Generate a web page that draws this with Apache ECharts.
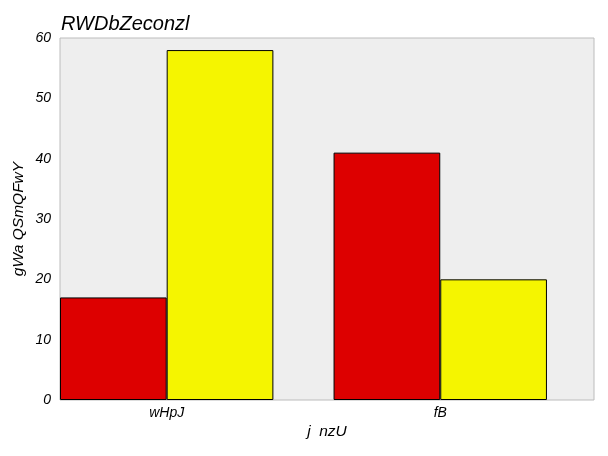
<!DOCTYPE html>
<html>
<head>
<meta charset="utf-8">
<script src="https://cdn.jsdelivr.net/npm/echarts@6/dist/echarts.min.js"></script>
<style>
    html, body { margin: 0; padding: 0; background: #ffffff; }
    #chart { width: 608px; height: 456px; }
</style>
</head>
<body>
<div id="chart"></div>
<script>
var categories = ['wHpJ', 'fB'];
var redValues = [17, 41];
var yellowValues = [58, 20];
var yTicks = [0, 10, 20, 30, 40, 50, 60];

var barOffset = 0.195;
var font = '"Liberation Sans", Arial, sans-serif';

function place(values, shift) {
    return values.map(function (v, i) { return [i + shift, v]; });
}

var myChart = echarts.init(document.getElementById('chart'));
var option = {
    backgroundColor: '#ffffff',
    animation: false,
    title: {
        text: 'RWDbZeconzl',
        left: 56,
        top: 9,
        textStyle: { fontFamily: font, fontStyle: 'italic', fontWeight: 'normal', fontSize: 20, color: '#000' }
    },
    grid: {
        left: 60, top: 38, right: 14, bottom: 56,
        show: true,
        backgroundColor: '#eeeeee',
        borderColor: '#bcbcbc',
        borderWidth: 1
    },
    xAxis: {
        type: 'value',
        min: -0.39,
        max: 1.562,
        name: 'j  nzU',
        nameLocation: 'middle',
        nameGap: 24,
        nameMoveOverlap: false,
        nameTextStyle: { fontFamily: font, fontStyle: 'italic', fontSize: 15.5, color: '#000' },
        axisLine: { show: false },
        axisTick: { show: false },
        splitLine: { show: false },
        axisLabel: {
            customValues: [0, 1],
            formatter: function (v) { return categories[Math.round(v)]; },
            fontFamily: font, fontStyle: 'italic', fontSize: 14, color: '#000', margin: 6
        }
    },
    yAxis: {
        type: 'value',
        min: 0,
        max: 60,
        interval: 10,
        name: 'gWa QSmQFwY',
        nameLocation: 'middle',
        nameGap: 33,
        nameMoveOverlap: false,
        nameTextStyle: { fontFamily: font, fontStyle: 'italic', fontSize: 15.5, color: '#000' },
        axisLine: { show: false },
        axisTick: { show: false },
        splitLine: { show: false },
        axisLabel: {
            formatter: function (v) { return yTicks.indexOf(v) >= 0 ? String(v) : ''; },
            fontFamily: font, fontStyle: 'italic', fontSize: 14, color: '#000', margin: 9
        }
    },
    series: [
        {
            type: 'bar',
            data: place(redValues, -barOffset),
            barWidth: 106.7,
            barGap: '-100%',
            itemStyle: { color: '#dd0000', borderColor: '#000', borderWidth: 1 }
        },
        {
            type: 'bar',
            data: place(yellowValues, barOffset),
            barWidth: 106.7,
            barGap: '-100%',
            itemStyle: { color: '#f5f500', borderColor: '#000', borderWidth: 1 }
        }
    ]
};
myChart.setOption(option);
</script>
</body>
</html>
